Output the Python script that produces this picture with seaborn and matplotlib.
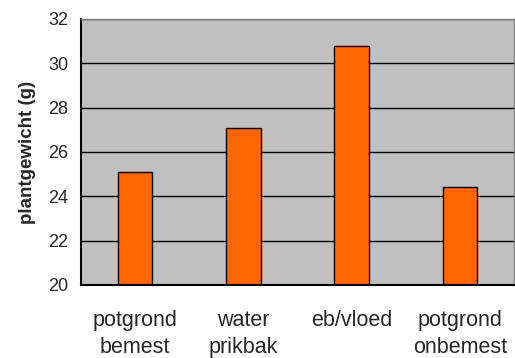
import matplotlib
matplotlib.use("Agg")
import matplotlib.pyplot as plt
import seaborn as sns
import pandas as pd

categories = ["potgrond\nbemest", "water\nprikbak", "eb/vloed", "potgrond\nonbemest"]
plant_weight = [25.1, 27.1, 30.8, 24.4]
y_ticks = [20, 22, 24, 26, 28, 30, 32]

sns.set_style("white")
plt.rcParams["font.family"] = ["Liberation Sans", "DejaVu Sans"]

df = pd.DataFrame({"behandeling": categories, "gewicht": plant_weight})

fig = plt.figure(figsize=(5.15, 3.58), dpi=100)
ax = fig.add_axes([81 / 515, 1 - 285 / 358, 433 / 515, 266 / 358])
ax.set_facecolor("#C0C0C0")

sns.barplot(data=df, x="behandeling", y="gewicht", color="#FF6600",
            width=0.32, edgecolor="black", linewidth=1, saturation=1, ax=ax)

ax.set_ylim(20, 32)
ax.set_xlim(-0.5, 3.5)
ax.set_yticks(y_ticks)
ax.set_yticklabels([str(t) for t in y_ticks], fontsize=13)
ax.yaxis.grid(True, color="black", linewidth=1)
ax.set_axisbelow(True)

# category boundary ticks pointing up into the plot
ax.set_xticks([0.5, 1.5, 2.5], minor=False)
ax.set_xticklabels([])
ax.set_xticks([0, 1, 2, 3], minor=True)
ax.set_xticklabels(categories, minor=True, fontsize=15.5, linespacing=1.4)
ax.tick_params(axis="x", which="major", direction="in", length=8, width=1.2, color="black")
ax.tick_params(axis="x", which="minor", length=0, pad=18)
ax.tick_params(axis="y", direction="out", length=3, width=1, color="black", pad=6)

ax.set_xlabel("")
ax.set_ylabel("plantgewicht (g)", fontsize=13.5, fontweight="bold", labelpad=9)

for side in ["left", "bottom"]:
    ax.spines[side].set_color("black")
    ax.spines[side].set_linewidth(1.5)
for side in ["top", "right"]:
    ax.spines[side].set_color("#808080")
    ax.spines[side].set_linewidth(1)

fig.savefig("out.png", dpi=100)
